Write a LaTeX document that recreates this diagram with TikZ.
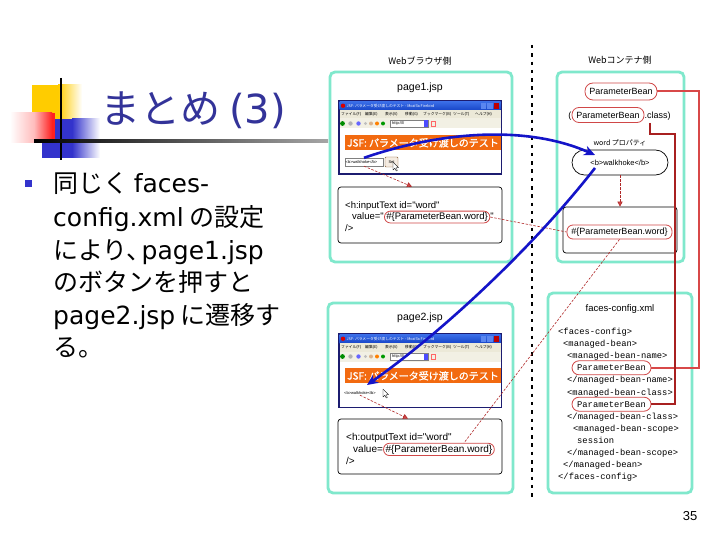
\documentclass[tikz,border=0pt]{standalone}
\usepackage{fontspec}
\setmainfont{Noto Sans CJK JP}
\newfontfamily\lat{DejaVu Sans}
\newfontfamily\arl{Liberation Sans}
\newfontfamily\mon{Liberation Mono}
\newfontfamily\bnf[FakeBold=1.2]{Noto Sans CJK JP}
\usetikzlibrary{arrows.meta,calc}
\definecolor{titleblue}{HTML}{333399}
\definecolor{bulletblue}{HTML}{3333CC}
\definecolor{tealc}{HTML}{80E8CC}
\definecolor{navyc}{HTML}{1C1C70}
\definecolor{orangeb}{HTML}{F26A10}
\definecolor{salmonr}{HTML}{D84848}
\definecolor{crimsonr}{HTML}{A82020}
\definecolor{ovalred}{HTML}{D04848}
\definecolor{darkred}{HTML}{B02828}
\definecolor{blueline}{HTML}{1414C8}
\definecolor{tbA}{HTML}{3A6EE8}
\definecolor{tbB}{HTML}{1846C8}
\definecolor{tbC}{HTML}{5A86F0}
\definecolor{menugray}{HTML}{ECE9D8}
\definecolor{yellowc}{HTML}{FFCC00}
\definecolor{sqblue}{HTML}{3333CC}
\definecolor{sqred}{HTML}{FF2020}
\begin{document}
\begin{tikzpicture}[x=1pt,y=-1pt,
  panel/.style={draw=tealc, line width=2.8pt, rounded corners=5pt},
  codebox/.style={draw=black, line width=0.7pt, rounded corners=3pt, fill=white},
  roval/.style={draw=ovalred, line width=0.8pt, rounded corners=6pt, inner xsep=2pt, inner ysep=1.5pt},
  lbl/.style={inner sep=0pt, font=\fontsize{9}{11}\selectfont},
  jsplbl/.style={inner sep=0pt, font=\arl\fontsize{10.5}{12}\selectfont},
  codetxt/.style={anchor=base west, inner sep=0pt, font=\arl\fontsize{9.5}{11}\selectfont},
  codetxtb/.style={anchor=base west, inner sep=0pt, font=\arl\fontsize{10}{12}\selectfont},
  xmltxt/.style={anchor=base west, inner sep=0pt, font=\mon\fontsize{8.8}{10}\selectfont},
  bodytxt/.style={anchor=base west, inner sep=0pt, text height=19pt, text depth=5pt, font=\fontsize{25}{30}\selectfont},
  tiny4/.style={inner sep=0pt, font=\fontsize{3.8}{4.5}\selectfont},
  tinyf/.style={inner sep=0pt, font=\arl\fontsize{4}{5}\selectfont},
  rdash/.style={draw=darkred, line width=0.6pt, dash pattern=on 2.5pt off 1.5pt},
  rdarrow/.style={rdash, -{Triangle[length=5pt,width=5pt,fill=ovalred]}},
  bluearrow/.style={draw=blueline, line width=2.6pt, -{Stealth[length=11pt,width=10pt]}},
  outerred/.style={draw=salmonr, line width=2pt},
  innerred/.style={draw=crimsonr, line width=2pt},
  dotline/.style={draw=black, line width=2.6pt, dash pattern=on 3.5pt off 4.8pt},
  cursor/.pic={\draw[black, fill=white, line width=0.3pt, line join=round] (0,0) -- (0,8) -- (1.9,6.3) -- (3.2,9) -- (4.4,8.4) -- (3.1,5.8) -- (5.6,5.8) -- cycle;},
  browser/.pic={
    \fill[navyc] (0,0) rectangle (164,75);
    \shade[top color=tbA, bottom color=tbB] (1.5,1.5) rectangle (162.5,10);
    \fill[red!85!black] (5,5.75) circle (2.2);
    \node[tiny4, text=white, anchor=west] (-tt) at (8.5,5.9) {JSF: パラメータ受け渡しのテスト - Mozilla Firebird};
    \fill[tbC] (142.5,2.8) rectangle (148,8.7);
    \fill[tbC] (149,2.8) rectangle (154.5,8.7);
    \fill[red!75!black] (155.5,2.8) rectangle (161,8.7);
    \fill[menugray] (1.5,10) rectangle (162.5,18.5);
    \foreach \t/\xx [count=\i] in {ファイル(F)/3, 編集(E)/27, 表示(V)/47, 移動(G)/67, ブックマーク(B)/85, ツール(T)/115, ヘルプ(H)/137}
      \node[tiny4, anchor=west] (-m\i) at (\xx,14.3) {\t};
    \fill[menugray!70] (1.5,18.5) rectangle (162.5,28.5);
    \fill[green!55!black] (4.5,23.5) circle (2.4);
    \fill[gray!60] (12.5,23.5) circle (2.2);
    \fill[blue!60] (20.5,23.5) circle (2.2);
    \fill[gray!50] (27.5,23.5) circle (1.6);
    \fill[brown!60] (33,23.5) circle (2);
    \fill[orange] (39,23.5) circle (2);
    \fill[green!60!black] (45,23.5) circle (2);
    \draw[gray, fill=white, line width=0.3pt] (52,20) rectangle (90,27.2);
    \node[tinyf, anchor=west] (-ad) at (54,23.6) {http://l/};
    \fill[blue!70] (85.5,20.5) rectangle (90,26.7);
    \draw[red!60, line width=0.3pt] (93,21) rectangle (97.5,26.2);
    \fill[white] (1.5,28.5) rectangle (162.5,73.5);
    \fill[orangeb] (7,35) rectangle (162.5,50);
    \node[anchor=west, text=white, font=\bnf\fontsize{10}{12}\selectfont, inner sep=0pt] (-bn) at (9,42.8) {JSF: パラメータ受け渡しのテスト};
  }]
\useasboundingbox (0,0) rectangle (720,540);
\fill[white] (0,0) rectangle (720,540);

% ---- title decoration
\fill[yellowc] (32,85) rectangle (58,119);
\shade[left color=yellowc, right color=white] (58,85) rectangle (82,119);
\fill[sqblue] (42,119) rectangle (72,158);
\shade[left color=sqblue, right color=white] (72,119) rectangle (100,158);
\shade[left color=white, right color=sqred!30] (10,113) rectangle (34,143);
\shade[left color=sqred!30, right color=sqred] (34,113) rectangle (52,143);
\fill[sqred] (52,113) rectangle (55,143);
\draw[black, line width=2pt] (61,78) -- (61,160);
\shade[left color=black, right color=black!35] (34,139.8) rectangle (328,142.4);
\node[anchor=base west, inner sep=0pt, text=titleblue, font=\fontsize{40}{48}\selectfont] (ttl) at (100,124) {まとめ {\lat (3)}};

% ---- body text
\fill[bulletblue] (25,180) rectangle (32,187);
\node[bodytxt] (l1) at (53,193) {同じく {\lat faces-}};
\node[bodytxt] (l2) at (53,226) {{\lat config.xml} の設定};
\node[bodytxt] (l3) at (53,259) {により、\kern-0.4em{\lat page1.jsp}};
\node[bodytxt] (l4) at (53,291) {のボタンを押すと};
\node[bodytxt] (l5) at (53,324) {{\lat page2.jsp} に遷移す};
\node[bodytxt] (l6) at (53,356) {る。};

% ---- headings
\node[lbl] (hb) at (420,61) {Webブラウザ側};
\node[lbl] (hc) at (620,60) {Webコンテナ側};
\coordinate (dt) at (532,45);
\coordinate (db) at (532,500);
\draw[dotline] (dt) -- (db);

% ---- panels
\node[panel, minimum width=182, minimum height=190] (pA) at (421,167) {};
\node[panel, minimum width=185, minimum height=190] (pB) at (420.5,398) {};
\node[panel, minimum width=127, minimum height=190] (pC) at (620.5,167) {};
\node[panel, minimum width=144, minimum height=200] (pD) at (620,393) {};

\node[jsplbl] (j1) at (420,88) {page1.jsp};
\node[jsplbl] (j2) at (420,318) {page2.jsp};

% ---- screenshots
\pic (s1) at (338,100) {browser};
\pic (s2) at (338,333) {browser};
\node[draw=gray, fill=white, line width=0.3pt, minimum width=38, minimum height=8, inner sep=0pt] (tf1) at (364,162) {};
\node[tinyf, anchor=west] (tf1t) at (345.5,162.2) {<b>walkhoke</b>};
\node[draw=brown!70!black, fill=brown!15, line width=0.4pt, rounded corners=1pt, minimum width=13, minimum height=10, inner sep=0pt, font=\arl\fontsize{4}{5}\selectfont] (btn) at (391.5,162) {Set};
\pic at (393,162) {cursor};
\node[tinyf, anchor=west] (t2) at (344,393.5) {<b>walkhoke</b>};
\pic at (383,389) {cursor};

% ---- code boxes (browser side)
\node[codebox, minimum width=164, minimum height=56] (cA) at (420,215) {};
\node[codetxt] (a1) at (345,208.5) {<h:inputText id="word"};
\node[codetxt] (a2) at (352,219.5) {value="};
\node[roval, font=\arl\fontsize{9.5}{11}\selectfont, anchor=base west] (ovA) at (a2.base east) {\#\{ParameterBean.word\}};
\node[codetxt] (a2q) at (ovA.base east) {"};
\node[codetxt] (a3) at (345,231.5) {/>};

\node[codebox, minimum width=164, minimum height=55] (cB) at (420,446.5) {};
\node[codetxtb] (b1) at (346,440.5) {<h:outputText id="word"};
\node[codetxtb] (b2) at (353,452) {value=};
\node[roval, font=\arl\fontsize{10}{12}\selectfont, anchor=base west] (ovB) at (b2.base east) {\#\{ParameterBean.word\}};
\node[codetxtb] (b3) at (346,464) {/>};

% ---- container side
\node[roval, font=\arl\fontsize{9}{11}\selectfont, minimum width=72, minimum height=17, rounded corners=8pt] (pb1) at (621,91.5) {ParameterBean};
\node[roval, font=\arl\fontsize{9}{11}\selectfont, minimum width=72, minimum height=15, rounded corners=7pt] (pb2) at (608,115) {ParameterBean};
\node[anchor=base east, inner sep=0pt, font=\arl\fontsize{9}{11}\selectfont] (pbo) at (pb2.base west) {(};
\node[anchor=base west, inner sep=0pt, font=\arl\fontsize{9}{11}\selectfont] (pbc) at (pb2.base east) {.class)};
\node[inner sep=0pt, font=\fontsize{7}{8}\selectfont] (wp) at (620,143) {word プロパティ};
\node[draw=black, line width=0.7pt, rounded corners=12.5pt, minimum width=96, minimum height=25, inner sep=0pt, font=\arl\fontsize{7.5}{9}\selectfont] (wk) at (620,162.5) {<b>walkhoke</b>};
\node[codebox, minimum width=114, minimum height=46] (cC) at (620,230) {};
\node[roval, font=\arl\fontsize{9}{11}\selectfont, minimum width=105, minimum height=14] (w2) at (619.5,232) {\#\{ParameterBean.word\}};

% ---- faces-config.xml
\node[inner sep=0pt, font=\arl\fontsize{9.5}{11}\selectfont] (fc) at (620,309) {faces-config.xml};
\node[xmltxt] (x1) at (558,334.5) {<faces-config>};
\node[xmltxt] (x2) at (563,346.6) {<managed-bean>};
\node[xmltxt] (x3) at (567,358.7) {<managed-bean-name>};
\node[roval, font=\mon\fontsize{8.8}{10}\selectfont, minimum width=79, minimum height=14, rounded corners=7pt, inner sep=0pt] (pbx1) at (611.5,367.8) {ParameterBean};
\node[xmltxt] (x5) at (567,382.9) {</managed-bean-name>};
\node[xmltxt] (x6) at (567,395) {<managed-bean-class>};
\node[roval, font=\mon\fontsize{8.8}{10}\selectfont, minimum width=79, minimum height=14, rounded corners=7pt, inner sep=0pt] (pbx2) at (611.5,404.2) {ParameterBean};
\node[xmltxt] (x8) at (567,419.2) {</managed-bean-class>};
\node[xmltxt] (x9) at (573,431.3) {<managed-bean-scope>};
\node[xmltxt] (x10) at (577,443.4) {session};
\node[xmltxt] (x11) at (567,455.5) {</managed-bean-scope>};
\node[xmltxt] (x12) at (563,467.6) {</managed-bean>};
\node[xmltxt] (x13) at (558,479.7) {</faces-config>};

% ---- red solid connectors
\draw[outerred] (pb1.east) -- ++(41.6,0) |- (pbx1.east);
\draw[innerred] ($(pb2.south east)+(6,0)$) |- ++(24.6,11) |- (pbx2.east);

% ---- red dashed connectors
\draw[rdarrow] (tf1.south) -- ($(cA.north)+(-8,0)$);
\draw[rdarrow] (t2.south) -- ($(cB.north)+(-12,0)$);
\draw[rdarrow] (wk.south) -- (cC.north);
\draw[rdash] (ovA.east) -- (w2.west);
\draw[rdash] (w2.south) -- ($(ovB.north)!0.45!(ovB.north east)$);

% ---- blue arrows
\coordinate (b1e) at (595,155);
\coordinate (b2s) at (595,168);
\coordinate (b2e) at (367,385);
\draw[bluearrow] (tf1.north) .. controls (430,135) and (520,122) .. (b1e);
\draw[bluearrow] (b2s) .. controls (535,245) and (445,330) .. (b2e);

% ---- page number
\node[inner sep=0pt, font=\arl\fontsize{13}{15}\selectfont] (pn) at (690,516) {35};
\end{tikzpicture}
\end{document}
